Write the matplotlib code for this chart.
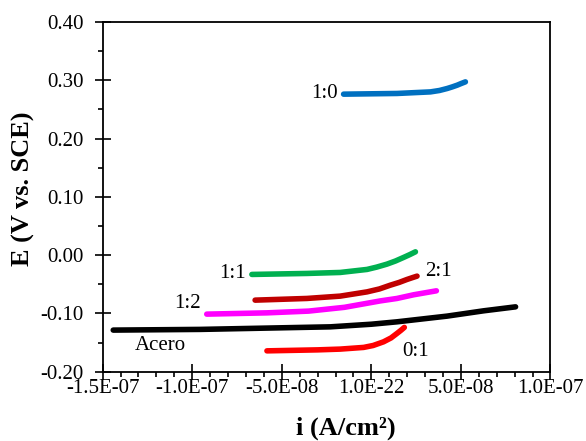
import matplotlib
matplotlib.use("Agg")
import matplotlib.pyplot as plt
from matplotlib.ticker import MultipleLocator

plt.rcParams["font.family"] = ["Liberation Serif", "DejaVu Serif"]

# current density in units of 1e-8 A/cm2, potential in V vs SCE
acero_i = [-14.41, -9.56, -5.09, -2.29, 0.0, 1.43, 4.23, 6.27, 8.05]
acero_e = [-0.1286, -0.1274, -0.1247, -0.1230, -0.1185, -0.1144, -0.1046, -0.0955, -0.0887]

r11_i = [-6.67, -3.60, -1.74, -0.24, 0.30, 0.87, 1.35, 1.80, 2.15, 2.46]
r11_e = [-0.0331, -0.0314, -0.0297, -0.0245, -0.0205, -0.0154, -0.0100, -0.0039, 0.0010, 0.0057]

r21_i = [-6.49, -3.60, -1.74, -0.24, 0.45, 1.06, 1.55, 1.99, 2.30, 2.55]
r21_e = [-0.0772, -0.0743, -0.0703, -0.0630, -0.0580, -0.0515, -0.0468, -0.0417, -0.0385, -0.0360]

r12_i = [-9.19, -5.83, -3.50, -1.50, 0.50, 1.43, 2.36, 3.63]
r12_e = [-0.1012, -0.0990, -0.0960, -0.0895, -0.0785, -0.0743, -0.0680, -0.0612]

r01_i = [-5.83, -3.00, -1.74, -0.43, 0.10, 0.68, 1.10, 1.43, 1.65, 1.84]
r01_e = [-0.1642, -0.1625, -0.1612, -0.1583, -0.1550, -0.1487, -0.1420, -0.1343, -0.1290, -0.1240]

r10_i = [-1.55, 1.43, 3.30, 3.80, 4.23, 4.50, 4.79, 5.00, 5.25]
r10_e = [0.2762, 0.2774, 0.2801, 0.2825, 0.2859, 0.2885, 0.2916, 0.2943, 0.2973]

x_ticks = [-1.5e-7, -1.0e-7, -5.0e-8, 0.0, 5.0e-8, 1.0e-7]
x_tick_labels = ["-1.5E-07", "-1.0E-07", "-5.0E-08", "1.0E-22", "5.0E-08", "1.0E-07"]
y_ticks = [-0.2, -0.1, 0.0, 0.1, 0.2, 0.3, 0.4]

series = [
    (acero_i, acero_e, "#000000"),
    (r01_i, r01_e, "#FF0000"),
    (r12_i, r12_e, "#FF00FF"),
    (r21_i, r21_e, "#C00000"),
    (r11_i, r11_e, "#00B050"),
    (r10_i, r10_e, "#0070C0"),
]

# label text, x (1e-8), y, horizontal alignment
labels = [
    ("1:0", -1.9, 0.277, "right"),
    ("1:1", -7.0, -0.032, "right"),
    ("2:1", 3.0, -0.028, "left"),
    ("1:2", -9.5, -0.083, "right"),
    ("Acero", -13.2, -0.155, "left"),
    ("0:1", 1.7, -0.165, "left"),
]

fig = plt.figure(figsize=(5.86, 4.41), dpi=100)
ax = fig.add_axes([0.1752, 0.1571, 0.7642, 0.7930])

for xs, ys, col in series:
    ax.plot([v * 1e-8 for v in xs], ys, color=col, lw=4.0,
            solid_capstyle="round", solid_joinstyle="round")

for txt, x, y, ha in labels:
    ax.text(x * 1e-8, y, txt, ha=ha, va="center", fontsize=15)

ax.set_xlim(-1.5e-7, 1.0e-7)
ax.set_ylim(-0.20, 0.40)
ax.set_xticks(x_ticks)
ax.set_xticklabels(x_tick_labels)
ax.xaxis.set_minor_locator(MultipleLocator(1e-8))
ax.set_yticks(y_ticks)
ax.set_yticklabels(["%.2f" % v for v in y_ticks])
ax.yaxis.set_minor_locator(MultipleLocator(0.05))

ax.tick_params(which="major", direction="inout", length=11, width=1.2, labelsize=15)
ax.tick_params(axis="x", which="major", pad=0)
ax.tick_params(axis="y", which="major", pad=8)
ax.tick_params(which="minor", direction="out", length=3.5, width=1.2)
for sp in ax.spines.values():
    sp.set_linewidth(1.3)

ax.set_xlabel("i (A/cm²)", fontsize=19, fontweight="bold")
ax.set_ylabel("E (V vs. SCE)", fontsize=19, fontweight="bold")
ax.xaxis.set_label_coords(0.543, -0.127)
ax.yaxis.set_label_coords(-0.150, 0.524)

fig.savefig("out.png", dpi=100)
